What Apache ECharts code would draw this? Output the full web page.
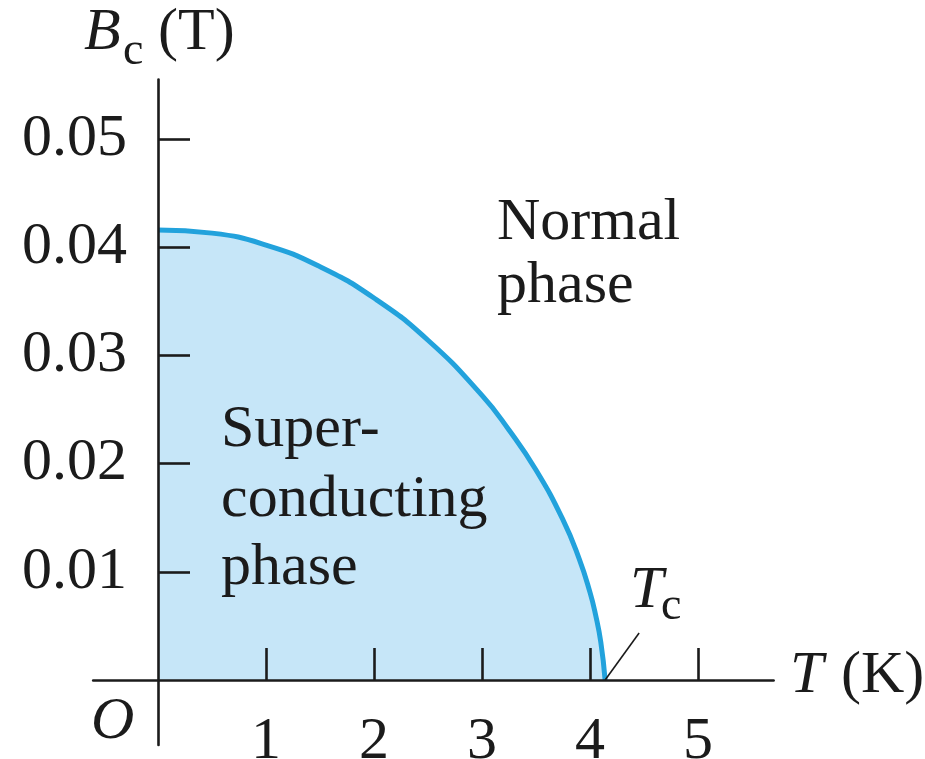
<!DOCTYPE html>
<html>
<head>
<meta charset="utf-8">
<script src="https://cdn.jsdelivr.net/npm/echarts@6/dist/echarts.min.js"></script>
<style>
  html, body { margin: 0; padding: 0; background: #ffffff; }
  #chart { width: 925px; height: 759px; }
</style>
</head>
<body>
<div id="chart"></div>
<script>
// Critical field of a superconductor versus temperature
const temperatureK = [0, 0.5, 1.0, 1.5, 2.0, 2.5, 3.0, 3.25, 3.5, 3.75, 3.9, 4.0, 4.05, 4.1, 4.14];
const criticalFieldT = [0.0416, 0.0413, 0.0402, 0.0382, 0.0353, 0.0314, 0.0263, 0.0231, 0.0194, 0.0148, 0.0112, 0.0081, 0.0061, 0.0035, 0];
const criticalTemp = 4.14;
const xTickValues = [1, 2, 3, 4, 5];
const yTickValues = [0.01, 0.02, 0.03, 0.04, 0.05];

const SERIF = '"Liberation Serif", "Times New Roman", serif';
const INK = '#1b1b1b';

const GRID = { left: 93.2, top: 79.5, width: 680.4, height: 665.4 };
const X_MIN = -0.6, X_MAX = 5.7, Y_MIN = -0.006, Y_MAX = 0.0555;

// shift the axes from the grid edges onto the zero lines
const yAxisShift = -GRID.width * (0 - X_MIN) / (X_MAX - X_MIN);
const xAxisShift = -GRID.height * (0 - Y_MIN) / (Y_MAX - Y_MIN);

const chart = echarts.init(document.getElementById('chart'), null, { renderer: 'canvas' });

const curve = temperatureK.map((t, i) => [t, criticalFieldT[i]]);

function txt(text, x, y, size, italic) {
  return {
    type: 'text',
    x: x,
    y: y,
    z: 100,
    style: {
      text: text,
      font: (italic ? 'italic ' : '') + size + 'px ' + SERIF,
      fill: INK,
      align: 'left',
      verticalAlign: 'middle'
    }
  };
}

chart.setOption({
  animation: false,
  backgroundColor: '#ffffff',
  grid: Object.assign({ outerBoundsMode: 'none', containLabel: false }, GRID),
  xAxis: {
    type: 'value',
    min: X_MIN,
    max: X_MAX,
    position: 'bottom',
    offset: xAxisShift,
    z: 5,
    axisLine: { show: true, onZero: false, lineStyle: { color: INK, width: 2.6 } },
    axisTick: {
      show: true, inside: true, length: 32,
      customValues: xTickValues,
      lineStyle: { color: INK, width: 2.6 }
    },
    axisLabel: {
      show: true,
      customValues: xTickValues,
      margin: 32,
      fontFamily: SERIF,
      fontSize: 60,
      color: INK,
      formatter: v => String(v)
    },
    splitLine: { show: false }
  },
  yAxis: {
    type: 'value',
    min: Y_MIN,
    max: Y_MAX,
    position: 'left',
    offset: yAxisShift,
    z: 5,
    axisLine: { show: true, onZero: false, lineStyle: { color: INK, width: 2.6 } },
    axisTick: {
      show: true, inside: true, length: 32,
      customValues: yTickValues,
      lineStyle: { color: INK, width: 2.6 }
    },
    axisLabel: {
      show: true,
      customValues: yTickValues,
      margin: 31,
      fontFamily: SERIF,
      fontSize: 60,
      color: INK,
      formatter: v => v.toFixed(2)
    },
    splitLine: { show: false }
  },
  series: [{
    type: 'line',
    data: curve,
    smooth: true,
    showSymbol: false,
    lineStyle: { color: '#22a2dc', width: 5 },
    areaStyle: { color: '#c6e6f8', opacity: 1, origin: 0 },
    z: 1
  }]
});

// Text annotations and the Tc pointer
const tcPx = chart.convertToPixel({ gridIndex: 0 }, [criticalTemp, 0]);

chart.setOption({
  graphic: [
    // y-axis title  B_c (T)
    txt('B', 84, 33, 60, true),
    txt('c', 123, 52, 46, false),
    txt('(T)', 158, 33, 60, false),
    // x-axis title  T (K)
    txt('T', 790, 676, 60, true),
    txt('(K)', 841, 676, 60, false),
    // origin
    txt('O', 91, 722, 60, true),
    // Tc marker
    txt('T', 630, 591, 60, true),
    txt('c', 661, 607, 46, false),
    {
      type: 'line',
      z: 100,
      shape: { x1: tcPx[0], y1: tcPx[1], x2: tcPx[0] + 34, y2: tcPx[1] - 47 },
      style: { stroke: INK, lineWidth: 1.6 }
    },
    // region labels
    txt('Normal', 497, 223, 60, false),
    txt('phase', 497, 286, 60, false),
    txt('Super-', 221, 430, 60, false),
    txt('conducting', 221, 500, 60, false),
    txt('phase', 221, 568, 60, false)
  ]
});
</script>
</body>
</html>
